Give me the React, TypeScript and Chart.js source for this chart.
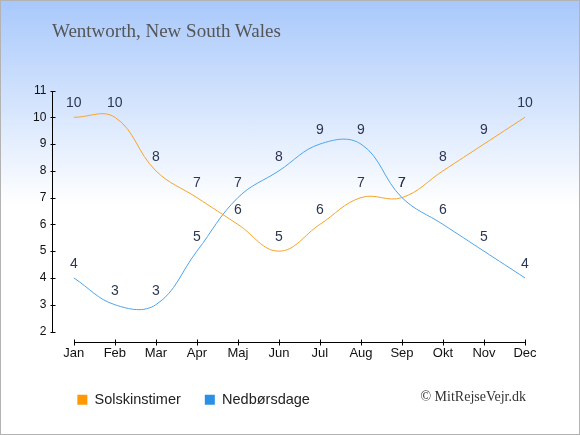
import React, { useEffect, useRef } from "react";
import { Chart, registerables } from "chart.js";

Chart.register(...registerables);

const months = ["Jan", "Feb", "Mar", "Apr", "Maj", "Jun", "Jul", "Aug", "Sep", "Okt", "Nov", "Dec"];
const sunHours = [10, 10, 8, 7, 6, 5, 6, 7, 7, 8, 9, 10];
const rainDays = [4, 3, 3, 5, 7, 8, 9, 9, 7, 6, 5, 4];
const yTicks = [2, 3, 4, 5, 6, 7, 8, 9, 10, 11];

const SANS = "'Liberation Sans', Arial, sans-serif";
const SERIF = "'Liberation Serif', 'Times New Roman', serif";

// axis lines are drawn by hand: the x axis sits a bit below the y axis and runs Jan..Dec only
const axisLines = {
  id: "axisLines",
  afterDraw(chart: any) {
    const { ctx, chartArea, scales } = chart;
    const x = scales.x;
    const y = scales.y;
    ctx.save();
    ctx.strokeStyle = "#000";
    ctx.lineWidth = 1;
    ctx.beginPath();
    const ax = Math.round(chartArea.left) - 0.5;
    const top = Math.round(y.getPixelForValue(yTicks[yTicks.length - 1]));
    const bot = Math.round(y.getPixelForValue(yTicks[0]));
    ctx.moveTo(ax, top);
    ctx.lineTo(ax, bot + 1);
    yTicks.forEach((v) => {
      const py = Math.round(y.getPixelForValue(v)) + 0.5;
      ctx.moveTo(ax - 2, py);
      ctx.lineTo(ax + 3, py);
    });
    const ay = bot + 10.5;
    const x0 = Math.round(x.getPixelForValue(0));
    const x1 = Math.round(x.getPixelForValue(months.length - 1));
    ctx.moveTo(x0, ay);
    ctx.lineTo(x1 + 1, ay);
    months.forEach((_, i) => {
      const px = Math.round(x.getPixelForValue(i)) + 0.5;
      ctx.moveTo(px, ay - 3);
      ctx.lineTo(px, ay + 3);
    });
    ctx.stroke();
    ctx.restore();
  },
};

// value labels above every point
const valueLabels = {
  id: "valueLabels",
  afterDatasetsDraw(chart: any) {
    const { ctx } = chart;
    ctx.save();
    ctx.font = `14px ${SANS}`;
    ctx.fillStyle = "#2b3752";
    ctx.textAlign = "center";
    ctx.textBaseline = "middle";
    chart.data.datasets.forEach((ds: any, di: number) => {
      const meta = chart.getDatasetMeta(di);
      meta.data.forEach((pt: any, i: number) => {
        ctx.fillText(String(ds.data[i]), pt.x, pt.y - 14);
      });
    });
    ctx.restore();
  },
};

export default function App() {
  const canvasRef = useRef<HTMLCanvasElement | null>(null);
  const chartRef = useRef<Chart | null>(null);

  useEffect(() => {
    document.body.style.margin = "0";
    const ctx = canvasRef.current?.getContext("2d");
    if (!ctx) return;
    if (chartRef.current) chartRef.current.destroy();

    chartRef.current = new Chart(ctx, {
      type: "line",
      data: {
        labels: months,
        datasets: [
          {
            label: "Solskinstimer",
            data: sunHours,
            borderColor: "#f7a327",
            backgroundColor: "#ff9900",
            borderWidth: 1,
            pointRadius: 0,
            tension: 0.4,
          },
          {
            label: "Nedbørsdage",
            data: rainDays,
            borderColor: "#4ea4ec",
            backgroundColor: "#2a90e6",
            borderWidth: 1,
            pointRadius: 0,
            tension: 0.4,
          },
        ],
      },
      options: {
        animation: false,
        responsive: false,
        layout: { padding: { top: 90.5, left: 26, right: 34.5, bottom: 18 } },
        scales: {
          x: {
            offset: true,
            grid: { display: false, drawTicks: false },
            border: { display: false },
            ticks: { padding: 14, color: "#111", font: { family: SANS, size: 13 } },
            afterFit: (scale: any) => {
              scale.height = 37;
            },
          },
          y: {
            min: 2,
            max: 11,
            grid: { display: false, drawTicks: false },
            border: { display: false },
            ticks: { stepSize: 1, padding: 7, color: "#111", font: { family: SANS, size: 12 } },
          },
        },
        plugins: {
          legend: {
            position: "bottom",
            align: "start",
            fullSize: false,
            labels: {
              boxWidth: 10,
              boxHeight: 10,
              padding: 24,
              color: "#222",
              font: { family: SANS, size: 14.5 },
              generateLabels: (chart: any) =>
                chart.data.datasets.map((ds: any, i: number) => ({
                  text: ds.label,
                  fillStyle: ds.backgroundColor,
                  strokeStyle: ds.backgroundColor,
                  lineWidth: 0,
                  datasetIndex: i,
                  fontColor: "#222",
                })),
            },
          },
          tooltip: { enabled: false },
        },
      },
      plugins: [axisLines, valueLabels],
    });

    return () => {
      if (chartRef.current) {
        chartRef.current.destroy();
        chartRef.current = null;
      }
    };
  }, []);

  return (
    <div
      style={{
        position: "absolute",
        left: 0,
        top: 0,
        width: 580,
        height: 435,
        background: "linear-gradient(to bottom, #a8c8fb 0px, #ffffff 205px, #ffffff 435px)",
      }}
    >
      <canvas ref={canvasRef} width={580} height={435} style={{ position: "absolute", left: 0, top: 0 }} />
      <div
        style={{
          position: "absolute",
          left: 52,
          top: 20,
          lineHeight: "22px",
          fontFamily: SERIF,
          fontSize: 19,
          color: "#555",
          whiteSpace: "nowrap",
        }}
      >
        Wentworth, New South Wales
      </div>
      <div
        style={{
          position: "absolute",
          right: 54,
          top: 389,
          lineHeight: "16px",
          fontFamily: SERIF,
          fontSize: 14,
          color: "#333",
          whiteSpace: "nowrap",
        }}
      >
        © MitRejseVejr.dk
      </div>
      <div
        style={{
          position: "absolute",
          left: 0,
          top: 0,
          width: 580,
          height: 435,
          boxSizing: "border-box",
          border: "1px solid #b3b3b3",
          pointerEvents: "none",
        }}
      />
    </div>
  );
}
